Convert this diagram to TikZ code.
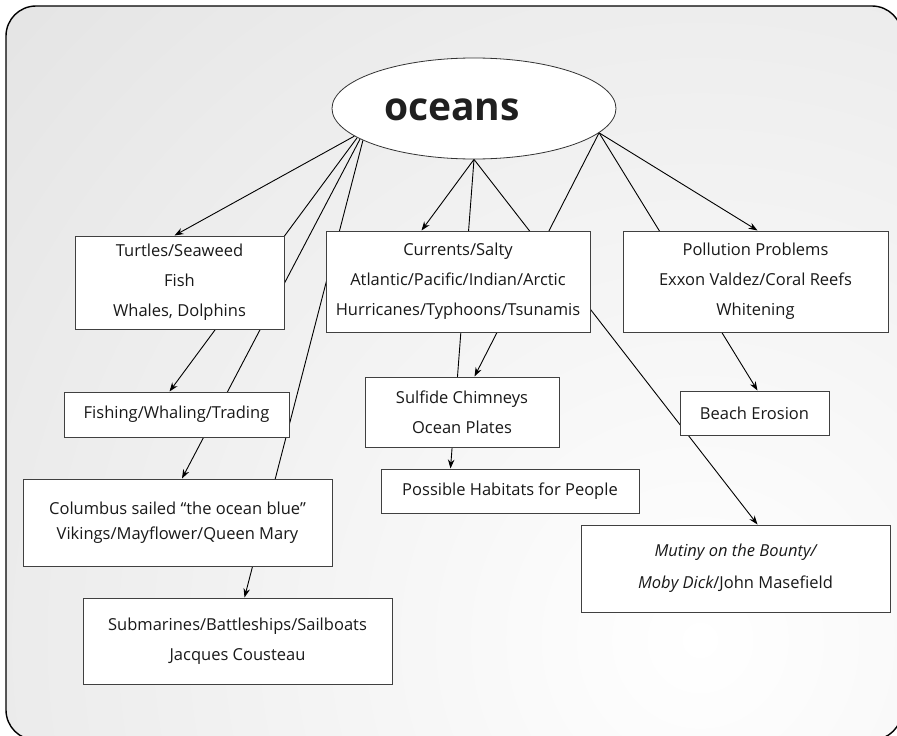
\documentclass[tikz,border=0pt]{standalone}
\usepackage{fontspec}
\setmainfont{Open Sans}
\usetikzlibrary{arrows.meta,calc,shapes.geometric}
\pgfdeclarelayer{bg}
\pgfdeclarelayer{lines}
\pgfsetlayers{bg,lines,main}
\tikzset{
  box/.style={draw=black!75, line width=1pt, fill=white, inner sep=0pt, align=center,
    font=\fontsize{16.5}{30}\selectfont, text=black!90},
  conn/.style={line width=0.9pt, draw=black},
  arr/.style={conn, -{Stealth[length=9pt,width=6.5pt]}}
}
\begin{document}
\begin{tikzpicture}[x=1pt,y=-1pt]
\useasboundingbox (0,0) rectangle (897,736);
\begin{pgfonlayer}{bg}
  \begin{scope}
    \clip[rounded corners=30pt] (6,6) rectangle (902,740);
    \shade[inner color=white, outer color=black!10] (-200,-260) rectangle (1600,1540);
  \end{scope}
  \draw[line width=1.4pt, rounded corners=30pt] (6,6) rectangle (902,740);
\end{pgfonlayer}

% central ellipse
\node[draw=black!80, line width=0.8pt, fill=white, ellipse, minimum width=284pt,
      minimum height=101pt, inner sep=0pt] (oceans) at (474,108.5) {};
\node[font=\bfseries\fontsize{39}{40}\selectfont, text=black!88, inner sep=0pt] (oceanstext) at (452,110) {oceans};

% boxes
\node[box, minimum width=209pt, minimum height=93pt] (turtles) at (179.5,282.5)
  {Turtles/Seaweed\\Fish\\Whales, Dolphins};
\node[box, minimum width=225pt, minimum height=45pt] (fishing) at (176.5,414.5)
  {Fishing/Whaling/Trading};
\node[box, minimum width=309pt, minimum height=87pt, font=\fontsize{16.5}{25}\selectfont] (columbus) at (177.5,522.5)
  {Columbus sailed “the ocean blue”\\Vikings/Mayflower/Queen Mary};
\node[box, minimum width=309pt, minimum height=86pt] (subs) at (237.5,641)
  {Submarines/Battleships/Sailboats\\Jacques Cousteau};
\node[box, minimum width=264pt, minimum height=101pt] (currents) at (458,281.5)
  {Currents/Salty\\Atlantic/Pacific/Indian/Arctic\\Hurricanes/Typhoons/Tsunamis};
\node[box, minimum width=194pt, minimum height=70pt] (sulfide) at (462,412)
  {Sulfide Chimneys\\Ocean Plates};
\node[box, minimum width=258pt, minimum height=44pt] (habitats) at (510,491)
  {Possible Habitats for People};
\node[box, minimum width=265pt, minimum height=101pt] (pollution) at (755.5,281.5)
  {Pollution Problems\\Exxon Valdez/Coral Reefs\\Whitening};
\node[box, minimum width=149pt, minimum height=44pt] (beach) at (754.5,413)
  {Beach Erosion};
\node[box, minimum width=309pt, minimum height=87pt, font=\fontsize{16.5}{32}\selectfont] (mutiny) at (735.5,568.5)
  {{\itshape Mutiny on the Bounty/}\\{\itshape Moby Dick}/John Masefield};

% connectors
\begin{pgfonlayer}{lines}
  \draw[arr] (oceans.193) -- ($(turtles.north west)+(100,0)$);
  \draw[arr] (oceans.194) -- ($(fishing.north west)+(106,0)$);
  \draw[arr] (oceans.195) -- ($(columbus.north west)+(159.5,0)$);
  \draw[arr] (oceans.196) -- ($(subs.north west)+(162,0)$);
  \draw[arr] (oceans.south) -- ($(currents.north west)+(96,0)$);
  \draw[arr] (oceans.south) -- ($(habitats.north west)+(70,0)$);
  \draw[arr] (oceans.south) -- ($(mutiny.north west)+(177,0)$);
  \draw[arr] (oceans.349) -- ($(sulfide.north west)+(110,0)$);
  \draw[arr] (oceans.349) -- ($(beach.north west)+(78,0)$);
  \draw[arr] (oceans.349) -- ($(pollution.north west)+(135,0)$);
\end{pgfonlayer}
\end{tikzpicture}
\end{document}
